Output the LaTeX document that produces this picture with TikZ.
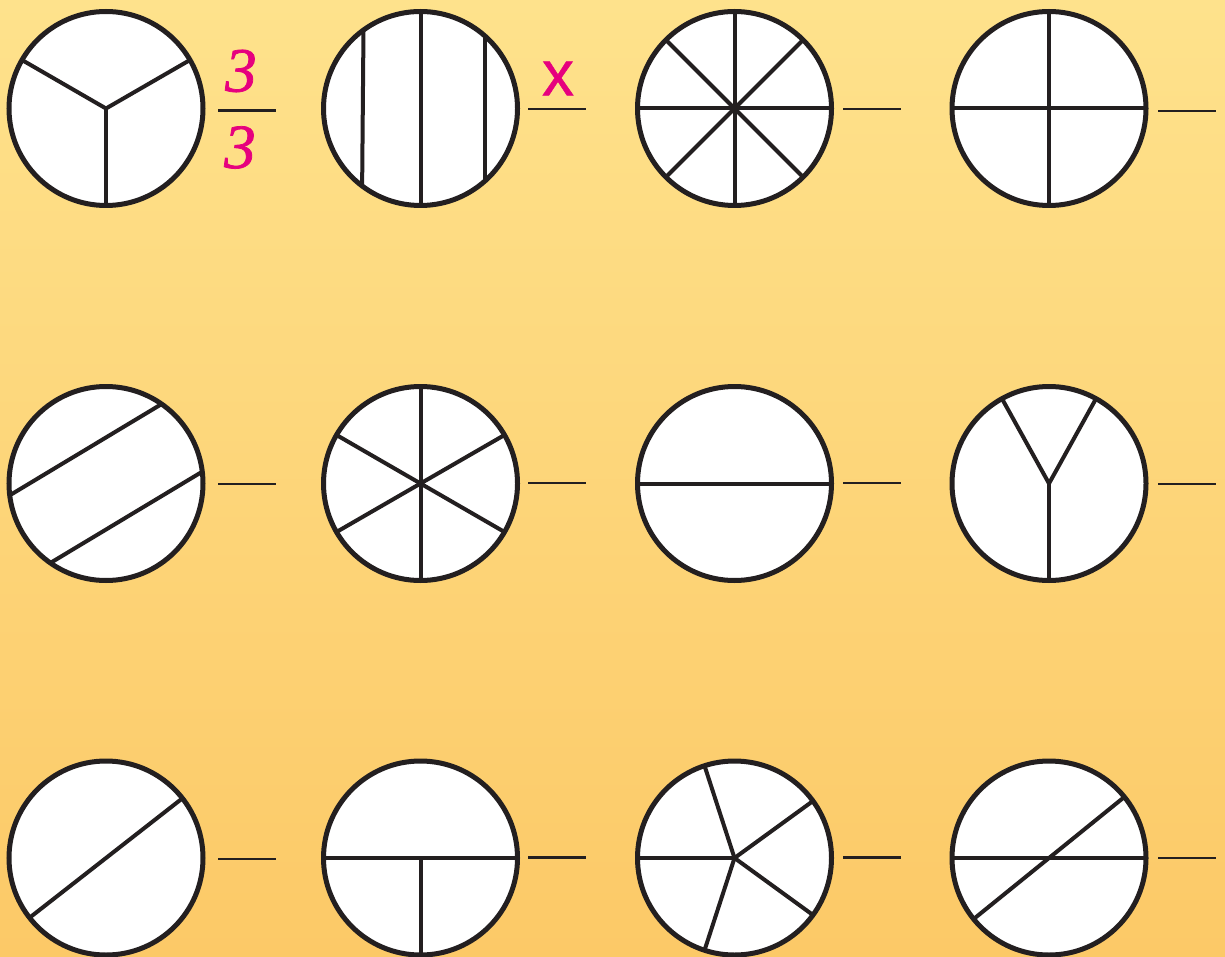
\documentclass[tikz,border=0pt]{standalone}
\usepackage{fontspec}
\newfontfamily\serifit[FakeBold=1.2]{Liberation Serif}
\newfontfamily\sansf[FakeBold=0.8]{Liberation Sans}
\definecolor{ink}{RGB}{35,31,32}
\definecolor{mag}{RGB}{230,0,126}
\definecolor{bgtop}{RGB}{254,226,140}
\definecolor{bgbot}{RGB}{252,201,103}
\tikzset{
  disc/.style={circle, draw=ink, fill=white, line width=5pt, minimum size=194pt, inner sep=0pt, outer sep=0pt},
  cut/.style={draw=ink, line width=4pt, line join=miter},
  blank/.style={draw=ink, line width=2.5pt},
  magtext/.style={text=mag, inner sep=0pt},
}
\begin{document}
\begin{tikzpicture}[x=1pt,y=-1pt]
\useasboundingbox (0,0) rectangle (1225,957);
\shade[top color=bgtop,bottom color=bgbot] (0,0) rectangle (1225,957);

% row 1
\node[disc] (c1) at (106,108.5) {};
\node[disc] (c2) at (420.5,108.5) {};
\node[disc] (c3) at (734.5,108.5) {};
\node[disc] (c4) at (1049,108.5) {};
% row 2
\node[disc] (c5) at (106,483.5) {};
\node[disc] (c6) at (420.5,483.5) {};
\node[disc] (c7) at (734.5,483.5) {};
\node[disc] (c8) at (1049,483.5) {};
% row 3
\node[disc] (c9) at (106,858) {};
\node[disc] (c10) at (420.5,858) {};
\node[disc] (c11) at (734.5,858) {};
\node[disc] (c12) at (1049,858) {};

% circle 1: thirds
\draw[cut] (c1.150) -- (c1.center) -- (c1.30);
\draw[cut] (c1.center) -- (c1.270);
% circle 2: vertical strips
\draw[cut] (c2.90) -- (c2.270);
\draw[cut] (c2.126.7) -- (c2.233.3);
\draw[cut] (c2.48.7) -- (c2.-48.7);
% circle 3: eighths
\draw[cut] (c3.0) -- (c3.180);
\draw[cut] (c3.90) -- (c3.270);
\draw[cut] (c3.45) -- (c3.225);
\draw[cut] (c3.135) -- (c3.315);
% circle 4: quarters
\draw[cut] (c4.0) -- (c4.180);
\draw[cut] (c4.90) -- (c4.270);
% circle 5: two parallel chords
\draw[cut] (c5.187.5) -- (c5.55.5);
\draw[cut] (c5.235.5) -- (c5.7.5);
% circle 6: sixths
\draw[cut] (c6.90) -- (c6.270);
\draw[cut] (c6.30) -- (c6.210);
\draw[cut] (c6.150) -- (c6.330);
% circle 7: halves
\draw[cut] (c7.0) -- (c7.180);
% circle 8: Y
\draw[cut] (c8.119) -- (c8.center) -- (c8.61);
\draw[cut] (c8.center) -- (c8.270);
% circle 9: slanted diameter
\draw[cut] (c9.218.7) -- (c9.38.7);
% circle 10: half and two quarters
\draw[cut] (c10.0) -- (c10.180);
\draw[cut] (c10.center) -- (c10.270);
% circle 11: fifths
\draw[cut] (c11.center) -- (c11.180);
\draw[cut] (c11.center) -- (c11.108);
\draw[cut] (c11.center) -- (c11.36);
\draw[cut] (c11.center) -- (c11.-36);
\draw[cut] (c11.center) -- (c11.-108);
% circle 12: horizontal and slanted diameters
\draw[cut] (c12.0) -- (c12.180);
\draw[cut] (c12.219) -- (c12.39);

% blanks
\coordinate (b1a) at (218,110.5);  \coordinate (b1b) at (276,110.5);
\coordinate (b2a) at (528,109);    \coordinate (b2b) at (586,109);
\coordinate (b3a) at (843,109);    \coordinate (b3b) at (901,109);
\coordinate (b4a) at (1158,111);   \coordinate (b4b) at (1216,111);
\coordinate (b5a) at (218,484);    \coordinate (b5b) at (276,484);
\coordinate (b6a) at (528,483);    \coordinate (b6b) at (586,483);
\coordinate (b7a) at (843,483);    \coordinate (b7b) at (901,483);
\coordinate (b8a) at (1158,484);   \coordinate (b8b) at (1216,484);
\coordinate (b9a) at (218,859);    \coordinate (b9b) at (276,859);
\coordinate (b10a) at (528,857.5); \coordinate (b10b) at (586,857.5);
\coordinate (b11a) at (843,857.5); \coordinate (b11b) at (901,857.5);
\coordinate (b12a) at (1158,858);  \coordinate (b12b) at (1216,858);
\foreach \i in {1,...,12} {\draw[blank] (b\i a) -- (b\i b);}

% labels
\node[magtext, font=\serifit\itshape\fontsize{63}{63}\selectfont] (num) at (241,71) {3};
\node[magtext, font=\serifit\itshape\fontsize{63}{63}\selectfont] (den) at (240,147.5) {3};
\node[magtext, font=\sansf\fontsize{64}{64}\selectfont] (xlab) at (558,78.5) {x};
\end{tikzpicture}
\end{document}
